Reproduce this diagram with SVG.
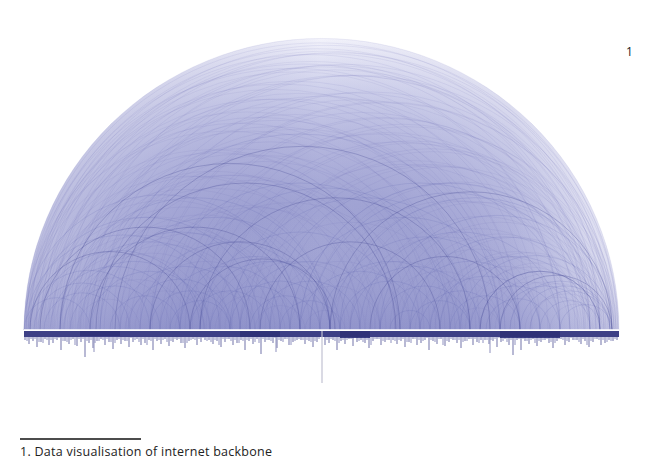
<svg xmlns="http://www.w3.org/2000/svg" width="650" height="461" viewBox="0 0 650 461">
<style>
.faint{fill:none;stroke:#6468b6;stroke-opacity:0.18;stroke-width:0.6}
.fine{fill:none;stroke:#5559ac;stroke-opacity:0.16;stroke-width:0.5}
.mid{fill:none;stroke:#5155a6;stroke-opacity:0.22;stroke-width:0.7}
.dark{fill:none;stroke:#3f4290;stroke-opacity:0.32;stroke-width:0.9}
.spike{fill:none;stroke:#44478e;stroke-width:0.9;stroke-opacity:0.85}
.spike2{fill:none;stroke:#5a5da2;stroke-width:0.9;stroke-opacity:0.75}
.txt{font-family:"Open Sans","Liberation Sans",sans-serif;fill:#222}
</style>
<defs>
<radialGradient id="bg" gradientUnits="userSpaceOnUse" cx="321.5" cy="330" r="297.5">
<stop offset="0" stop-color="#9a9dd0"/>
<stop offset="0.45" stop-color="#a2a5d4"/>
<stop offset="0.65" stop-color="#b5b7de"/>
<stop offset="0.8" stop-color="#cacce9"/>
<stop offset="0.92" stop-color="#e0e1f3"/>
<stop offset="1" stop-color="#f3f3fb"/>
</radialGradient>
<linearGradient id="side" x1="0" y1="0" x2="1" y2="0">
<stop offset="0" stop-color="#5e62b0" stop-opacity="0.38"/>
<stop offset="0.3" stop-color="#5e62b0" stop-opacity="0.16"/>
<stop offset="0.5" stop-color="#5e62b0" stop-opacity="0"/>
<stop offset="0.82" stop-color="#5e62b0" stop-opacity="0.16"/>
<stop offset="1" stop-color="#5e62b0" stop-opacity="0.1"/>
</linearGradient>
<linearGradient id="vert" x1="0" y1="0" x2="0" y2="1">
<stop offset="0" stop-color="#ffffff" stop-opacity="0"/>
<stop offset="0.6" stop-color="#ffffff" stop-opacity="0"/>
<stop offset="1" stop-color="#5e62b0" stop-opacity="0.16"/>
</linearGradient>
</defs>
<g id="arc-field" transform="translate(0,330) scale(1,0.98) translate(0,-330)">
<path d="M24 330 A297.5 297.5 0 0 1 619 330 Z" fill="url(#bg)"/>
<path d="M24 330 A297.5 297.5 0 0 1 619 330 Z" fill="url(#side)"/>
<path d="M24 330 A297.5 297.5 0 0 1 619 330 Z" fill="url(#vert)"/>
</g>
<g id="connectors" transform="translate(0,330) scale(1,0.98) translate(0,-330)">
<path class="faint" d="M24 330A297.5 297.5 0 0 1 619 330M26 330A293 293 0 0 1 612 330M30 330A287 287 0 0 1 604 330M28 330A281 281 0 0 1 590 330M36 330A290.5 290.5 0 0 1 617 330M44 330A282 282 0 0 1 608 330M32 330A271.5 271.5 0 0 1 575 330M52 330A283 283 0 0 1 618 330M26 330A267 267 0 0 1 560 330M60 330A270 270 0 0 1 600 330M40 330A254 254 0 0 1 548 330M72 330A271 271 0 0 1 614 330M30 330A251 251 0 0 1 532 330M86 330A260 260 0 0 1 606 330M48 330A236 236 0 0 1 520 330M98 330A260 260 0 0 1 618 330M34 330A235.5 235.5 0 0 1 505 330M112 330A242 242 0 0 1 596 330M62 330A214 214 0 0 1 490 330M126 330A243 243 0 0 1 612 330M42 330A217 217 0 0 1 476 330M140 330A222 222 0 0 1 584 330M78 330A192 192 0 0 1 462 330M152 330A232 232 0 0 1 616 330M28 330A211 211 0 0 1 450 330M166 330A217 217 0 0 1 600 330M92 330A172 172 0 0 1 436 330M178 330A200 200 0 0 1 578 330M54 330A185 185 0 0 1 424 330M192 330A210 210 0 0 1 612 330M104 330A153 153 0 0 1 410 330M206 330A192 192 0 0 1 590 330M36 330A181 181 0 0 1 398 330M218 330A193 193 0 0 1 604 330M70 330A158 158 0 0 1 386 330M232 330A169 169 0 0 1 570 330M118 330A127 127 0 0 1 372 330M246 330A185 185 0 0 1 616 330M46 330A157 157 0 0 1 360 330M258 330A169 169 0 0 1 596 330"/>
<path class="fine" d="M24 330A203 203 0 0 1 430 330M25 330A222.5 222.5 0 0 1 470 330M27 330A184 184 0 0 1 395 330M29 330A245.5 245.5 0 0 1 520 330M31 330A157 157 0 0 1 345 330M33 330A263.5 263.5 0 0 1 560 330M35 330A132.5 132.5 0 0 1 300 330M37 330A274 274 0 0 1 585 330M39 330A115.5 115.5 0 0 1 270 330M41 330A284.5 284.5 0 0 1 610 330M43 330A143.5 143.5 0 0 1 330 330M45 330A227.5 227.5 0 0 1 500 330M47 330A96.5 96.5 0 0 1 240 330M49 330A203 203 0 0 1 455 330M51 330A162 162 0 0 1 375 330M53 330A268.5 268.5 0 0 1 590 330M55 330A77.5 77.5 0 0 1 210 330M57 330A241.5 241.5 0 0 1 540 330M59 330A125.5 125.5 0 0 1 310 330M61 330A179.5 179.5 0 0 1 420 330M63 330A53.5 53.5 0 0 1 170 330M65 330A207.5 207.5 0 0 1 480 330M67 330A106.5 106.5 0 0 1 280 330M69 330A265.5 265.5 0 0 1 600 330M71 330A144.5 144.5 0 0 1 360 330M73 330A78.5 78.5 0 0 1 230 330M75 330A220 220 0 0 1 515 330M77 330A31.5 31.5 0 0 1 140 330M79 330A158 158 0 0 1 395 330M81 330A87 87 0 0 1 255 330M83 330A238.5 238.5 0 0 1 560 330M85 330A117.5 117.5 0 0 1 320 330M87 330A51.5 51.5 0 0 1 190 330M89 330A178 178 0 0 1 445 330M91 330A259.5 259.5 0 0 1 610 330M93 330A98.5 98.5 0 0 1 290 330M95 330A205 205 0 0 1 505 330M150 330A233 233 0 0 1 616 330M200 330A207.5 207.5 0 0 1 615 330M250 330A182 182 0 0 1 614 330M280 330A166.5 166.5 0 0 1 613 330M310 330A151 151 0 0 1 612 330M350 330A130.5 130.5 0 0 1 611 330M390 330A110 110 0 0 1 610 330M420 330A94.5 94.5 0 0 1 609 330M450 330A79 79 0 0 1 608 330M470 330A68.5 68.5 0 0 1 607 330M490 330A58 58 0 0 1 606 330M510 330A47.5 47.5 0 0 1 605 330M530 330A37 37 0 0 1 604 330M550 330A26.5 26.5 0 0 1 603 330M170 330A216 216 0 0 1 602 330M220 330A190.5 190.5 0 0 1 601 330M265 330A167.5 167.5 0 0 1 600 330M300 330A149.5 149.5 0 0 1 599 330M335 330A131.5 131.5 0 0 1 598 330M365 330A116 116 0 0 1 597 330M400 330A98 98 0 0 1 596 330M435 330A80 80 0 0 1 595 330M465 330A64.5 64.5 0 0 1 594 330M495 330A49 49 0 0 1 593 330M525 330A33.5 33.5 0 0 1 592 330M120 330A235 235 0 0 1 590 330M185 330A201.5 201.5 0 0 1 588 330M240 330A173 173 0 0 1 586 330M320 330A132 132 0 0 1 584 330M375 330A103.5 103.5 0 0 1 582 330M430 330A75 75 0 0 1 580 330M480 330A49 49 0 0 1 578 330M130 330A125 125 0 0 1 380 330M160 330A130 130 0 0 1 420 330M210 330A70 70 0 0 1 350 330M240 330A110 110 0 0 1 460 330M270 330A70 70 0 0 1 410 330M290 330A45 45 0 0 1 380 330M330 330A70 70 0 0 1 470 330M350 330A95 95 0 0 1 540 330M380 330A60 60 0 0 1 500 330M395 330A82.5 82.5 0 0 1 560 330M415 330A52.5 52.5 0 0 1 520 330M440 330A65 65 0 0 1 570 330M455 330A22.5 22.5 0 0 1 500 330M125 330A40 40 0 0 1 205 330M135 330A70 70 0 0 1 275 330M175 330A40 40 0 0 1 255 330M215 330A35 35 0 0 1 285 330M225 330A70 70 0 0 1 365 330M255 330A25 25 0 0 1 305 330M305 330A20 20 0 0 1 345 330"/>
<path class="mid" d="M24 330A138 138 0 0 1 300 330M30 330A115 115 0 0 1 260 330M26 330A97 97 0 0 1 220 330M38 330A81 81 0 0 1 200 330M50 330A65 65 0 0 1 180 330M28 330A61 61 0 0 1 150 330M60 330A90 90 0 0 1 240 330M80 330A100 100 0 0 1 280 330M44 330A38 38 0 0 1 120 330M70 330A45 45 0 0 1 160 330M90 330A60 60 0 0 1 210 330M100 330A115 115 0 0 1 330 330M120 330A65 65 0 0 1 250 330M140 330A90 90 0 0 1 320 330M110 330A35 35 0 0 1 180 330M160 330A65 65 0 0 1 290 330M150 330A40 40 0 0 1 230 330M180 330A75 75 0 0 1 330 330M190 330A40 40 0 0 1 270 330M200 330A70 70 0 0 1 340 330M210 330A45 45 0 0 1 300 330M230 330A50 50 0 0 1 330 330M250 330A35 35 0 0 1 320 330M240 330A70 70 0 0 1 380 330M260 330A50 50 0 0 1 360 330M280 330A30 30 0 0 1 340 330M300 330A60 60 0 0 1 420 330M320 330A70 70 0 0 1 460 330M340 330A50 50 0 0 1 440 330M330 330A95 95 0 0 1 520 330M350 330A65 65 0 0 1 480 330M360 330A100 100 0 0 1 560 330M380 330A45 45 0 0 1 470 330M400 330A70 70 0 0 1 540 330M420 330A40 40 0 0 1 500 330M300 330A150 150 0 0 1 600 330M340 330A135 135 0 0 1 610 330M380 330A117 117 0 0 1 614 330M410 330A95 95 0 0 1 600 330M440 330A75 75 0 0 1 590 330M460 330A76 76 0 0 1 612 330M480 330A60 60 0 0 1 600 330M500 330A45 45 0 0 1 590 330M520 330A45 45 0 0 1 610 330M470 330A45 45 0 0 1 560 330M540 330A30 30 0 0 1 600 330M430 330A55 55 0 0 1 540 330M450 330A35 35 0 0 1 520 330M390 330A20 20 0 0 1 430 330M560 330A26 26 0 0 1 612 330M24 330A33 33 0 0 1 90 330M200 330A100 100 0 0 1 400 330M150 330A150 150 0 0 1 450 330M100 330A200 200 0 0 1 500 330M180 330A145 145 0 0 1 470 330M230 330A135 135 0 0 1 500 330M60 330A135 135 0 0 1 330 330M270 330A150 150 0 0 1 570 330M290 330A115 115 0 0 1 520 330M310 330A140 140 0 0 1 590 330M34 330A48 48 0 0 1 130 330M64 330A70 70 0 0 1 204 330M128 330A52 52 0 0 1 232 330M170 330A30 30 0 0 1 230 330M486 330A32 32 0 0 1 550 330M510 330A50 50 0 0 1 610 330M530 330A40 40 0 0 1 610 330M410 330A30 30 0 0 1 470 330"/>
<path class="dark" d="M115 330A187.5 187.5 0 0 1 490 330M60 330A170 170 0 0 1 400 330M330 330A141 141 0 0 1 612 330M190 330A72.5 72.5 0 0 1 335 330M40 330A105 105 0 0 1 250 330M200 330A135 135 0 0 1 470 330M480 330A60 60 0 0 1 600 330M370 330A75 75 0 0 1 520 330M90 330A105 105 0 0 1 300 330M150 330A90 90 0 0 1 330 330M260 330A90 90 0 0 1 440 330M500 330A56 56 0 0 1 612 330M30 330A80 80 0 0 1 190 330M96 330A150 150 0 0 1 396 330"/>
</g>
<g id="baseline">
<rect x="24" y="331" width="595" height="6" fill="#3e4086"/>
<rect x="80" y="331" width="40" height="5" fill="#303278"/>
<rect x="240" y="331" width="40" height="6" fill="#303278"/>
<rect x="340" y="331" width="30" height="7" fill="#303278"/>
<rect x="500" y="331" width="60" height="7" fill="#303278"/>
<line x1="322" y1="331" x2="322" y2="383" stroke="#c2c2d2" stroke-width="1.2"/>
<path class="spike" d="M25 337v3M29 337v7M33 337v4M37 337v10M41 337v5M45 337v2M49 337v8M53 337v6M57 337v3M61 337v13M65 337v4M69 337v7M73 337v2M77 337v9M81 337v5M85 337v20M89 337v6M93 337v11M97 337v4M101 337v2M105 337v8M109 337v5M113 337v12M117 337v3M121 337v7M125 337v4M129 337v10M133 337v5M137 337v2M141 337v8M145 337v6M149 337v3M153 337v13M157 337v4M161 337v7M165 337v2M169 337v9M173 337v5M177 337v3M181 337v6M185 337v11M189 337v4M193 337v2M197 337v8M201 337v5M205 337v3M209 337v3M213 337v7M217 337v4M221 337v10M225 337v5M229 337v2M233 337v8M237 337v6M241 337v3M245 337v13M249 337v4M253 337v7M257 337v2M261 337v17M265 337v5M269 337v3M273 337v6M277 337v11M281 337v4M285 337v2M289 337v8M293 337v5M297 337v3M301 337v3M305 337v7M309 337v4M313 337v10M317 337v5M325 337v8M329 337v6M333 337v3M337 337v13M341 337v4M345 337v7M349 337v2M353 337v9M357 337v5M361 337v3M365 337v6M369 337v11M373 337v4M377 337v2M381 337v8M385 337v5M389 337v3M393 337v3M397 337v7M401 337v4M405 337v10M409 337v5M413 337v2M417 337v8M421 337v6M425 337v3M429 337v13M433 337v4M437 337v7M441 337v2M445 337v9M449 337v5M453 337v3M457 337v6M461 337v11M465 337v4M469 337v2M473 337v8M477 337v5M481 337v3M485 337v3M489 337v7M493 337v4M497 337v10M501 337v5M505 337v2M509 337v8M513 337v18M517 337v3M521 337v13M525 337v4M529 337v7M533 337v2M537 337v9M541 337v5M545 337v3M549 337v6M553 337v11M557 337v4M561 337v2M565 337v8M569 337v5M573 337v3M577 337v3M581 337v7M585 337v4M589 337v10M593 337v5M597 337v2M601 337v8M605 337v6M609 337v3M613 337v4M617 337v3"/>
<path class="spike2" d="M27 337v4M31 337v2M35 337v2M39 337v5M43 337v6M47 337v3M51 337v3M55 337v2M59 337v1M63 337v4M67 337v5M71 337v3M75 337v8M79 337v2M83 337v2M87 337v4M91 337v3M95 337v6M99 337v4M103 337v3M107 337v2M111 337v5M115 337v6M119 337v2M123 337v3M127 337v4M131 337v1M135 337v3M139 337v5M143 337v2M147 337v8M151 337v4M155 337v2M159 337v3M163 337v3M167 337v5M171 337v4M175 337v2M179 337v2M183 337v6M187 337v6M191 337v3M195 337v3M199 337v2M203 337v1M207 337v4M211 337v5M215 337v3M219 337v8M223 337v2M227 337v2M231 337v4M235 337v3M239 337v6M243 337v4M247 337v3M251 337v2M255 337v5M259 337v6M263 337v2M267 337v3M271 337v4M275 337v1M279 337v3M283 337v5M287 337v2M291 337v8M295 337v4M299 337v2M303 337v3M307 337v3M311 337v5M315 337v4M319 337v2M327 337v3M331 337v2M335 337v4M339 337v6M343 337v3M347 337v3M351 337v2M355 337v1M359 337v4M363 337v5M367 337v3M371 337v8M375 337v2M379 337v2M383 337v4M387 337v3M391 337v6M395 337v4M399 337v3M403 337v2M407 337v5M411 337v6M415 337v2M419 337v3M423 337v4M427 337v1M431 337v3M435 337v5M439 337v2M443 337v8M447 337v4M451 337v2M455 337v3M459 337v3M463 337v5M467 337v4M471 337v2M475 337v2M479 337v6M483 337v6M487 337v3M491 337v3M495 337v2M499 337v1M503 337v4M507 337v5M511 337v3M515 337v8M519 337v2M523 337v2M527 337v4M531 337v3M535 337v6M539 337v4M543 337v3M547 337v2M551 337v5M555 337v6M559 337v2M563 337v3M567 337v4M571 337v1M575 337v3M579 337v5M583 337v2M587 337v8M591 337v4M595 337v2M599 337v3M603 337v3M607 337v5M611 337v4M615 337v2"/>
<path d="M94 337v15M276 337v15M490 337v16" stroke="#8f91bd" stroke-width="1" fill="none"/>
<line x1="24" y1="330" x2="619" y2="330" stroke="#ffffff" stroke-width="1.3"/>
</g>
<g id="labels">
<text class="txt" x="626" y="56" font-size="12" fill="#333">1</text>
<line x1="20" y1="439" x2="141" y2="439" stroke="#111" stroke-width="1.5"/>
<text class="txt" x="20" y="456" font-size="12.5" textLength="252" lengthAdjust="spacing">1. Data visualisation of internet backbone</text>
</g>
</svg>
